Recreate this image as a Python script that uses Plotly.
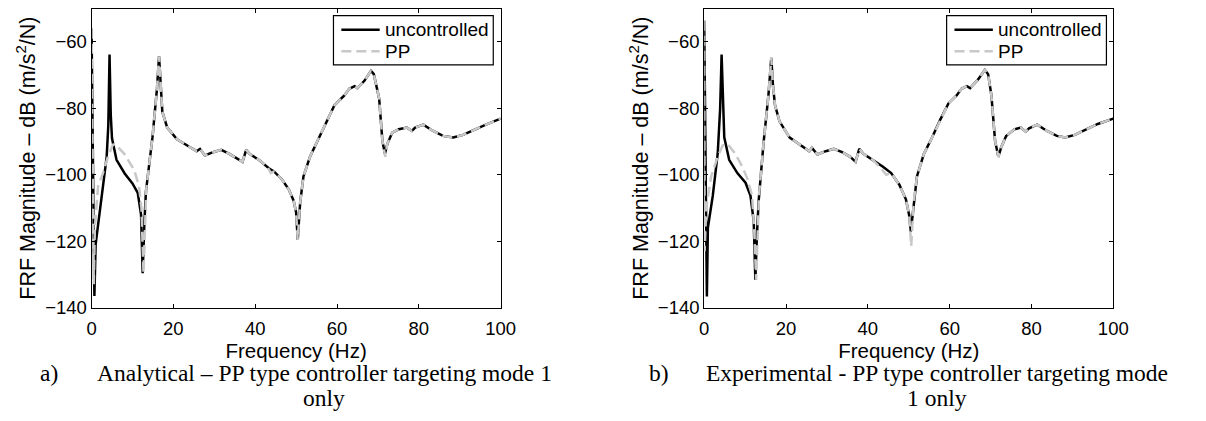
import plotly.graph_objects as go

# ---------------- data ----------------
# a) Analytical
freq_a_unc = [0, 0.35, 0.7, 1.0, 1.4, 2.5, 3.7, 4.1, 4.4, 4.7, 5.0, 6.1, 8.1, 10.0, 11.3, 12.1, 12.5,
              12.9, 13.3, 14.9, 16.0, 16.5, 16.9, 17.3, 18.5, 20.9, 24.1, 25.7, 26.5, 27.7, 29.7,
              31.7, 33.7, 35.7, 36.9, 37.8, 38.6, 41.0, 43.4, 44.6, 46.6, 48.2, 49.4, 50.0, 50.4,
              51.0, 51.8, 53.4, 55.4, 57.4, 59.4, 61.8, 63.0, 64.3, 65.0, 66.7, 68.3, 69.0, 70.3,
              71.1, 71.7, 72.3, 73.5, 75.1, 77.1, 78.3, 79.1, 81.1, 83.5, 85.9, 88.4, 90.8, 93.2,
              96.4, 100]
mag_a_unc = [-56, -105, -136.5, -121, -117, -106.4, -94.6, -85, -63.8, -82, -89, -95.5, -99.6, -102.6,
             -105.5, -112, -129.7, -115, -105, -88.7, -74, -64.3, -74, -81, -85.8, -89.3, -91.7, -92.9,
             -92.2, -94.2, -93.2, -92.5, -93.7, -95.1, -96.1, -92.5, -93.7, -95.6, -98.1, -99, -101.5,
             -104.4, -107.8, -111.3, -119.6, -108.3, -100.5, -94.6, -89.3, -84.4, -79, -76.1, -74.1,
             -73.3, -73.9, -71.7, -68.7, -69.7, -77, -89.8, -93.7, -90.7, -87.3, -86.3, -85.8, -86.8,
             -85.8, -84.9, -86.8, -88.3, -88.8, -88, -86.6, -84.9, -83.1]

freq_a_pp = [0, 0.3, 0.55, 0.8, 1.6, 2.8, 4.0, 5.2, 5.8, 8.0, 10.4, 11.6, 12.2, 12.7, 13.1, 13.4,
             14.9, 16.0, 16.5, 16.9, 17.3, 18.5, 20.9, 24.1, 25.7, 26.5, 27.7, 29.7, 31.7, 33.7,
             35.7, 36.9, 37.8, 38.6, 41.0, 43.0, 43.8, 44.6, 46.6, 48.2, 49.4, 50.0, 50.4, 51.0,
             51.8, 53.4, 55.4, 57.4, 59.4, 61.8, 63.0, 64.3, 65.0, 66.7, 68.3, 69.0, 70.3, 71.1,
             71.8, 72.3, 73.5, 75.1, 77.1, 78.3, 79.1, 81.1, 83.5, 85.9, 88.4, 90.8, 93.2, 96.4, 100]
mag_a_pp = [-56, -100, -133, -116, -103.4, -99.5, -94.6, -91.0, -90.8, -93.7, -98.5, -103.4, -110,
            -129.7, -112, -104, -88.7, -74, -64.3, -74, -81, -85.8, -89.3, -91.7, -92.9, -92.2,
            -94.2, -93.2, -92.5, -93.7, -95.1, -96.1, -92.5, -93.7, -95.6, -97.6, -99.5, -99,
            -101.5, -104.4, -107.8, -111.3, -119.6, -108.3, -100.5, -94.6, -89.3, -84.4, -79,
            -76.1, -74.1, -73.3, -73.9, -71.7, -68.7, -69.7, -77, -89.8, -94.6, -90.7, -87.3,
            -86.3, -85.8, -86.8, -85.8, -84.9, -86.8, -88.3, -88.8, -88, -86.6, -84.9, -83.1]

# b) Experimental
freq_b_unc = [0, 0.35, 0.65, 0.9, 1.3, 2.1, 3.3, 3.9, 4.25, 4.6, 4.9, 6.1, 8.1, 10.1, 11.3, 12.1,
              12.5, 12.9, 13.3, 14.5, 15.7, 16.4, 16.8, 17.3, 18.4, 20.9, 24.1, 25.7, 26.3, 27.7,
              29.7, 31.7, 33.7, 35.7, 37.0, 37.9, 38.9, 41.3, 43.7, 45.7, 47.7, 49.3, 50.1, 50.5,
              51.2, 52.0, 53.7, 55.7, 57.7, 59.7, 61.7, 62.9, 64.2, 65.0, 67.0, 68.6, 69.4, 70.2,
              71.1, 71.9, 72.6, 73.8, 75.8, 77.4, 78.6, 79.4, 81.4, 83.8, 86.2, 88.2, 90.6, 93.0,
              96.2, 100]
mag_b_unc = [-53.6, -100, -136.7, -116, -113, -106.3, -93.6, -80, -63.8, -80, -88.7, -95.5, -99.5,
             -102.4, -106.3, -114, -131.6, -118, -108, -90.5, -76, -64.8, -73, -79, -83.9, -88.8,
             -91.7, -92.9, -91.9, -93.9, -92.9, -92.2, -93.2, -94.6, -96.1, -92.2, -93.7, -95.6,
             -97.6, -99.5, -103, -107.4, -112.2, -117.1, -108.3, -100.5, -93.7, -88.8, -83.4,
             -78.5, -76.1, -74.1, -73.3, -73.9, -71.2, -68.4, -69.7, -76.1, -89.8, -94.6, -91.7,
             -88.3, -86.3, -85.8, -87, -86, -84.9, -86.8, -88.3, -88.8, -88, -86.6, -84.7, -83.1]

freq_b_pp = [0, 0.1, 0.5, 1.7, 3.3, 4.5, 5.7, 7.3, 8.9, 10.5, 11.7, 12.2, 12.7, 13.1, 13.4, 14.5,
             15.7, 16.4, 16.8, 17.3, 18.4, 20.9, 24.1, 25.7, 26.3, 27.7, 29.7, 31.7, 33.7, 35.7,
             37.0, 37.9, 38.9, 41.3, 43.5, 44.5, 45.7, 47.7, 49.3, 50.1, 50.6, 51.2, 52.0, 53.7,
             55.7, 57.7, 59.7, 61.7, 62.9, 64.2, 65.0, 67.0, 68.6, 69.4, 70.2, 71.1, 71.9, 72.6,
             73.8, 75.8, 77.4, 78.6, 79.4, 81.4, 83.8, 86.2, 88.2, 90.6, 93.0, 96.2, 100]
mag_b_pp = [-53.6, -123, -110, -100.5, -94.6, -91.2, -90.7, -93.2, -96.6, -101, -106.3, -116,
            -131.6, -115, -106, -90.5, -76, -64.8, -73, -79, -83.9, -88.8, -91.7, -92.9, -91.9,
            -93.9, -92.9, -92.2, -93.2, -94.6, -96.1, -92.2, -93.7, -95.6, -98.5, -100, -99.5,
            -103, -107.4, -112.2, -121.5, -108.3, -100.5, -93.7, -88.8, -83.4, -78.5, -76.1,
            -74.1, -73.3, -73.9, -71.2, -68.4, -69.7, -76.1, -89.8, -94.6, -91.7, -88.3, -86.3,
            -85.8, -87, -86, -84.9, -86.8, -88.3, -88.8, -88, -86.6, -84.7, -83.1]

series_names = ["uncontrolled", "PP"]
x_ticks = [0, 20, 40, 60, 80, 100]
y_ticks = [-140, -120, -100, -80, -60]
x_title = "Frequency (Hz)"
y_title = "FRF Magnitude – dB (m/s<sup>2</sup>/N)"
cap_a_label, cap_a_lines = "a)", ["Analytical – PP type controller targeting mode 1", "only"]
cap_b_label, cap_b_lines = "b)", ["Experimental - PP type controller targeting mode", "1 only"]

# ---------------- figure ----------------
W, H = 1206, 421
SANS = "Liberation Sans, Arial, sans-serif"
SERIF = "Liberation Serif, Times New Roman, serif"

unc_style = dict(color="black", width=2.5)
pp_style = dict(color="#c8c8c8", width=2.5, dash="10px,5px")

fig = go.Figure()
fig.add_trace(go.Scatter(x=freq_a_unc, y=mag_a_unc, mode="lines", name=series_names[0],
                         line=unc_style, xaxis="x", yaxis="y"))
fig.add_trace(go.Scatter(x=freq_a_pp, y=mag_a_pp, mode="lines", name=series_names[1],
                         line=pp_style, xaxis="x", yaxis="y"))
fig.add_trace(go.Scatter(x=freq_b_unc, y=mag_b_unc, mode="lines", name=series_names[0],
                         line=unc_style, xaxis="x2", yaxis="y2"))
fig.add_trace(go.Scatter(x=freq_b_pp, y=mag_b_pp, mode="lines", name=series_names[1],
                         line=pp_style, xaxis="x2", yaxis="y2"))


def px_x(v):
    return v / W


def px_y(v):
    return 1 - v / H


ydom = [px_y(315), px_y(9)]
TICK_FONT = dict(family=SANS, size=18.5, color="black")
TITLE_FONT = dict(family=SANS, size=21.5, color="black")
XTITLE_FONT = dict(family=SANS, size=20.5, color="black")


def xaxis(dom, anchor):
    return dict(domain=dom, anchor=anchor, range=[0, 100], tickvals=x_ticks,
                showline=True, linecolor="black", linewidth=1, mirror="ticks",
                ticks="inside", ticklen=4, tickcolor="black", showgrid=False, zeroline=False,
                tickfont=TICK_FONT, ticklabelstandoff=4,
                title=dict(text=x_title, font=XTITLE_FONT, standoff=0))


def yaxis(anchor):
    return dict(domain=ydom, anchor=anchor, range=[-140, -50], tickvals=y_ticks,
                showline=True, linecolor="black", linewidth=1, mirror="ticks",
                ticks="inside", ticklen=4, tickcolor="black", showgrid=False, zeroline=False,
                tickfont=TICK_FONT,
                title=dict(text=y_title, font=TITLE_FONT, standoff=3))


fig.update_layout(
    width=W, height=H, margin=dict(l=0, r=0, t=0, b=0),
    paper_bgcolor="white", plot_bgcolor="white",
    xaxis=xaxis([px_x(88), px_x(504)], "y"),
    yaxis=yaxis("x"),
    xaxis2=xaxis([px_x(711), px_x(1127)], "y2"),
    yaxis2=yaxis("x2"),
    showlegend=False,
)

# ---------------- legends (box, line samples, labels) ----------------
LEG_FONT = dict(family=SANS, size=19, color="black")
for off in (0, 623.5):
    fig.add_shape(type="rect", xref="paper", yref="paper",
                  x0=px_x(334 + off), x1=px_x(496.5 + off), y0=px_y(66.5), y1=px_y(16),
                  line=dict(color="black", width=1.2), fillcolor="white", layer="above")
    for row, (name, style) in enumerate(zip(series_names, (unc_style, pp_style))):
        yy = 30.5 + 22 * row
        fig.add_shape(type="line", xref="paper", yref="paper",
                      x0=px_x(342 + off), x1=px_x(381 + off), y0=px_y(yy), y1=px_y(yy),
                      line=style, layer="above")
        fig.add_annotation(text=name, x=px_x(385 + off), y=px_y(yy), xref="paper", yref="paper",
                           xanchor="left", yanchor="middle", showarrow=False, font=LEG_FONT,
                           borderpad=0)

# ---------------- captions ----------------
cap_font = dict(family=SERIF, size=23.5, color="black")


def cap(text, x, y, xanchor):
    fig.add_annotation(text=text, x=px_x(x), y=px_y(y), xref="paper", yref="paper",
                       xanchor=xanchor, yanchor="middle", showarrow=False, font=cap_font,
                       borderpad=0)


cap(cap_a_label, 35, 382, "left")
cap(cap_a_lines[0], 324.5, 382, "center")
cap(cap_a_lines[1], 324.5, 408, "center")
cap(cap_b_label, 654, 382, "left")
cap(cap_b_lines[0], 948, 382, "center")
cap(cap_b_lines[1], 948, 408, "center")

fig.write_html("out.html")
